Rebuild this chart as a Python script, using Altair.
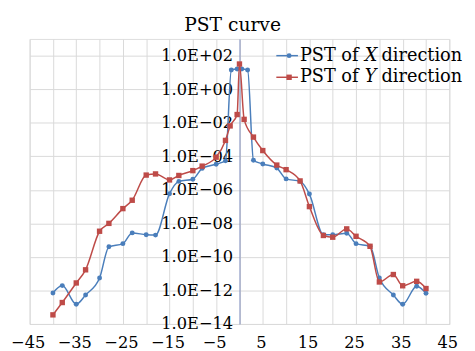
import altair as alt
import pandas as pd

# ---- data ----
x_dir_pos = [-40, -38, -35, -33, -30, -28, -25, -23, -20, -18, -15, -13, -10, -8, -5, -3,
             -1.75, -0.5, 0.5, 1.75, 3, 5, 8, 10, 13, 15, 18, 20, 23, 25, 28, 30, 33, 35, 38, 40]
x_dir_pst = [7.1e-13, 1.95e-12, 1.5e-13, 5.4e-13, 5.5e-12, 4.0e-10, 6.2e-10, 2.7e-9, 2.1e-9, 2.0e-9,
             5.9e-7, 3.2e-6, 4.3e-6, 1.9e-5, 3.4e-5, 5.5e-5,
             14, 16, 16, 14,
             5.8e-5, 3.5e-5, 2.0e-5, 4.5e-6, 3.2e-6, 5.6e-7, 2.1e-9, 2.1e-9, 2.6e-9, 6.2e-10,
             4.3e-10, 5.5e-12, 5.4e-13, 1.5e-13, 1.8e-12, 6.8e-13]

y_dir_pos = [-40, -38, -35, -33, -30, -28, -25, -23, -20, -18, -15, -13, -10, -8, -5, -3,
             -2, -0.5, 0, 1, 3, 5, 8, 10, 13, 15, 18, 20, 23, 25, 28, 30, 33, 35, 38, 40]
y_dir_pst = [3.5e-14, 1.9e-13, 2.8e-12, 1.7e-11, 3.4e-9, 1.0e-8, 7.6e-8, 2.4e-7, 7.6e-6, 8.9e-6,
             3.9e-6, 7.2e-6, 1.4e-5, 2.6e-5, 8.9e-5, 8.9e-4,
             6.5e-3, 3.1e-2, 32, 1.6e-2,
             1.4e-3, 2.2e-4, 3.0e-5, 1.6e-5, 3.4e-6, 1.0e-7, 1.9e-9, 1.5e-9, 4.7e-9, 1.7e-9,
             4.3e-10, 3.2e-12, 8.9e-12, 1.9e-12, 3.5e-12, 1.3e-12]

x_ticks = list(range(-45, 50, 5))
y_ticks = [1e-14, 1e-12, 1e-10, 1e-8, 1e-6, 1e-4, 1e-2, 1e0, 1e2]
y_domain = [1e-14, 1e3]
chart_title = ["PST curve"]
legend_prefix = ["PST of"]
legend_letters = ["X", "Y"]
legend_suffix = ["direction"]

# ---- styling ----
FONT = "DejaVu Serif"
BLUE = "#4a7ebb"
RED = "#be4b48"
GRID = "#d9d9d9"
AXIS = "#7f8fbf"
W, H = 427, 290
LFS = 18  # legend font size

df_x = pd.DataFrame({"pos": x_dir_pos, "pst": x_dir_pst})
df_y = pd.DataFrame({"pos": y_dir_pos, "pst": y_dir_pst})

minus = "replace(toString(datum.value), '-', '−')"
x_label_expr = f"(datum.value % 10 != 0) ? {minus} : ''"
exp_ = "round(log(datum.value)/LN10)"
y_label_expr = (f"'1.0E' + ({exp_} < 0 ? '−' : '+') + "
                f"pad(toString(abs({exp_})), 2, '0', 'left')")

x_enc = alt.X("pos:Q",
              scale=alt.Scale(domain=[-45, 45], nice=False, zero=False),
              axis=alt.Axis(values=x_ticks, labelExpr=x_label_expr, title=None,
                            grid=True, gridColor=GRID, domainColor=GRID, ticks=False,
                            labelFont=FONT, labelFontSize=16.5, labelColor="black",
                            labelPadding=10.5, labelOffset=-2, labelFlush=False,
                            labelOverlap=False))
y_enc = alt.Y("pst:Q",
              scale=alt.Scale(type="log", domain=y_domain, nice=False),
              axis=alt.Axis(values=y_ticks, labelExpr=y_label_expr, title=None,
                            grid=True, gridColor=GRID, domainColor=AXIS, ticks=False,
                            offset=-213.5, labelFont=FONT, labelFontSize=16.5,
                            labelColor="black", labelPadding=7, labelFlush=False,
                            labelOverlap=False))


def series(df, color, shape, size):
    line = alt.Chart(df).mark_line(color=color, strokeWidth=1.5,
                                   interpolate="monotone").encode(x=x_enc, y=y_enc)
    pts = alt.Chart(df).mark_point(filled=True, shape=shape, size=size, color=color,
                                   opacity=1).encode(x=x_enc, y=y_enc)
    return line + pts


def legend_row(letter, color, shape, size, yv):
    one = pd.DataFrame({"a": legend_prefix, "b": [letter], "c": legend_suffix})
    base = alt.Chart(one)
    rule = base.mark_rule(color=color, strokeWidth=1.5).encode(
        x=alt.value(251), x2=alt.value(273), y=alt.value(yv))
    mk = base.mark_point(filled=True, shape=shape, size=size, color=color, opacity=1).encode(
        x=alt.value(264), y=alt.value(yv))
    t1 = base.mark_text(font=FONT, fontSize=LFS, align="left", baseline="middle",
                        color="black").encode(x=alt.value(275), y=alt.value(yv), text="a:N")
    t2 = base.mark_text(font=FONT, fontSize=LFS, fontStyle="italic", align="left",
                        baseline="middle", color="black").encode(
        x=alt.value(341), y=alt.value(yv), text="b:N")
    t3 = base.mark_text(font=FONT, fontSize=LFS, align="left", baseline="middle",
                        color="black").encode(x=alt.value(358), y=alt.value(yv), text="c:N")
    return rule + mk + t1 + t2 + t3


title_layer = alt.Chart(pd.DataFrame({"t": chart_title})).mark_text(
    font=FONT, fontSize=19, align="center", baseline="alphabetic", color="black"
).encode(x=alt.value(206.5), y=alt.value(-8), text="t:N")

chart = alt.layer(
    series(df_x, BLUE, "circle", 25),
    series(df_y, RED, "square", 30),
    legend_row(legend_letters[0], BLUE, "circle", 25, 17),
    legend_row(legend_letters[1], RED, "square", 30, 39),
    title_layer,
).properties(
    width=W, height=H,
    autosize=alt.AutoSizeParams(type="none"),
    padding={"left": 22, "top": 28.5, "right": 18, "bottom": 24.5},
).configure_view(strokeWidth=0).configure(background="white")

chart.save("out.html", embed_options={"renderer": "svg", "actions": False})
